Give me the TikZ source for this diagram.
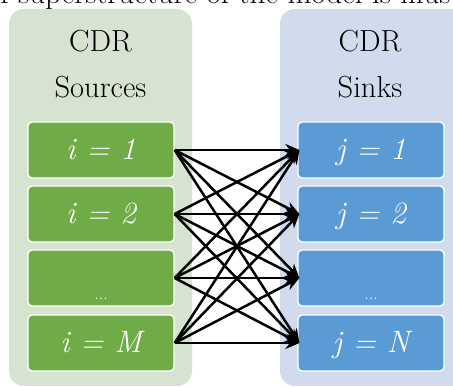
\documentclass[tikz,border=0pt]{standalone}
\usetikzlibrary{arrows.meta}
\definecolor{panelgreen}{HTML}{D5E3D0}
\definecolor{panelblue}{HTML}{D0DCEE}
\definecolor{boxgreen}{HTML}{6FAB46}
\definecolor{boxblue}{HTML}{5B9BD5}
\tikzset{
  panel/.style={rounded corners=15pt},
  headtext/.style={font=\fontsize{30.5}{46}\selectfont, align=center, text=black},
  cell/.style={draw=white, line width=1.3pt, rounded corners=4pt,
    minimum width=146pt, minimum height=56pt, inner sep=0pt,
    text=white, text height=20pt, text depth=0pt,
    font=\fontsize{31}{31}\selectfont\itshape},
  srccell/.style={cell, fill=boxgreen},
  snkcell/.style={cell, fill=boxblue},
  arr/.style={line width=2.5pt, -{Stealth[length=14pt,width=12pt]}},
}
\newcommand{\celldots}{\raisebox{-12pt}{\fontsize{18}{18}\selectfont\upshape ...}}
\begin{document}
\begin{tikzpicture}[x=1pt,y=-1pt]
\useasboundingbox (0,0) rectangle (453,387);
\begin{scope}
  \clip (0,0) rectangle (453,387);
  \node[anchor=base west, inner sep=0pt, font=\fontsize{31}{31}\selectfont] (cut) at (18,4) {\llap{of }superstructure of the model is illustrated};
  \fill[panelgreen, panel] (9,9) rectangle (192,386);
  \fill[panelblue, panel] (280,9) rectangle (480,386);
\end{scope}
\node[headtext, anchor=base] (h1) at (100.5,52) {CDR};
\node[headtext, anchor=base] (h2) at (100.5,98) {Sources};
\node[headtext, anchor=base] (h3) at (370,52) {CDR};
\node[headtext, anchor=base] (h4) at (370,98) {Sinks};

\node[srccell] (s1) at (101,150) {i = 1};
\node[srccell] (s2) at (101,214) {i = 2};
\node[srccell] (s3) at (101,278) {\celldots};
\node[srccell] (s4) at (101,343) {i = M};

\node[snkcell] (k1) at (371,150) {j = 1};
\node[snkcell] (k2) at (371,214) {j = 2};
\node[snkcell] (k3) at (371,278) {\celldots};
\node[snkcell] (k4) at (371,343) {j = N};

\foreach \a in {1,...,4}
  \foreach \b in {1,...,4}
    \draw[arr] (s\a.east) -- ([xshift=2pt]k\b.west);
\end{tikzpicture}
\end{document}
